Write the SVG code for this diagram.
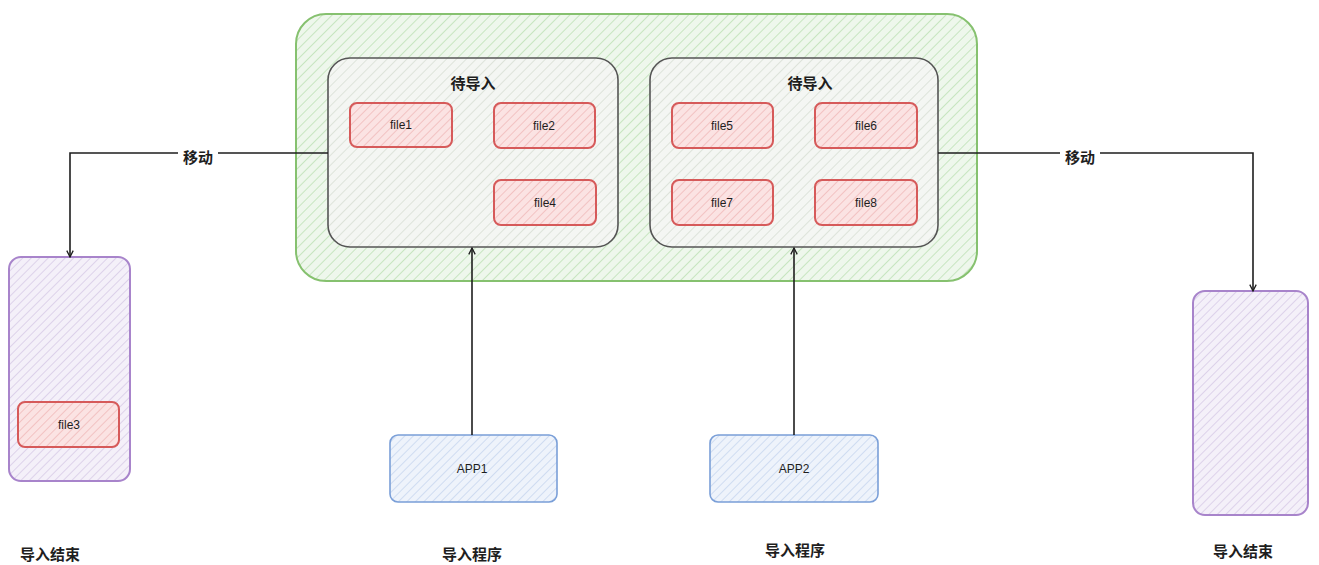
<svg xmlns="http://www.w3.org/2000/svg" width="1319" height="565" viewBox="0 0 1319 565">
<style>
text{font-family:"Noto Sans CJK SC","Liberation Sans",sans-serif;fill:#1e1e1e;text-anchor:middle}
.t{font-size:15px;font-weight:bold}
.f{font-size:12px;font-family:"Liberation Sans","Noto Sans CJK SC",sans-serif}
.green{fill:url(#hg);stroke:#86c16f;stroke-width:2}
.gray{fill:url(#hw);stroke:#555;stroke-width:1.6}
.red{fill:url(#hr);stroke:#d65a5a;stroke-width:2}
.blue{fill:url(#hb);stroke:#7a9fd8;stroke-width:1.6}
.purple{fill:url(#hp);stroke:#a884cb;stroke-width:2}
.conn{fill:none;stroke:#1e1e1e;stroke-width:1.6}
</style>
<defs>
<pattern id="hg" width="7" height="7" patternUnits="userSpaceOnUse" patternTransform="rotate(45)"><rect width="7" height="7" fill="#eef7ec"/><line x1="0" y1="0" x2="0" y2="7" stroke="#c7e5c0" stroke-width="2"/></pattern>
<pattern id="hw" width="7" height="7" patternUnits="userSpaceOnUse" patternTransform="rotate(45)"><rect width="7" height="7" fill="#f4f6f3"/><line x1="0" y1="0" x2="0" y2="7" stroke="#dde3da" stroke-width="2"/></pattern>
<pattern id="hr" width="6" height="6" patternUnits="userSpaceOnUse" patternTransform="rotate(45)"><rect width="6" height="6" fill="#fbe3e3"/><line x1="0" y1="0" x2="0" y2="6" stroke="#f2c2c2" stroke-width="2"/></pattern>
<pattern id="hb" width="6" height="6" patternUnits="userSpaceOnUse" patternTransform="rotate(45)"><rect width="6" height="6" fill="#eef3fb"/><line x1="0" y1="0" x2="0" y2="6" stroke="#cfdcf1" stroke-width="2"/></pattern>
<pattern id="hp" width="6" height="6" patternUnits="userSpaceOnUse" patternTransform="rotate(45)"><rect width="6" height="6" fill="#f4f0f9"/><line x1="0" y1="0" x2="0" y2="6" stroke="#ddd2ea" stroke-width="2"/></pattern>
<marker id="arr" viewBox="0 0 10 10" refX="9" refY="5" markerWidth="8" markerHeight="8" orient="auto-start-reverse" markerUnits="userSpaceOnUse"><path d="M1,1 L9,5 L1,9" fill="none" stroke="#1e1e1e" stroke-width="1.6"/></marker>
</defs>

<g id="outer"><rect class="green" x="296" y="14" width="681" height="267" rx="30"/></g>

<g id="group-left">
<rect class="gray" x="328" y="58" width="290" height="189" rx="22"/>
<text class="t" x="473" y="89">待导入</text>
</g>
<g id="group-right">
<rect class="gray" x="650" y="58" width="288" height="189" rx="22"/>
<text class="t" x="810" y="89">待导入</text>
</g>

<g id="file1"><rect class="red" x="350" y="103" width="102" height="44" rx="7"/><text class="f" x="401" y="129">file1</text></g>
<g id="file2"><rect class="red" x="494" y="103" width="101" height="45" rx="7"/><text class="f" x="544" y="130">file2</text></g>
<g id="file4"><rect class="red" x="494" y="180" width="102" height="45" rx="7"/><text class="f" x="545" y="207">file4</text></g>
<g id="file5"><rect class="red" x="672" y="103" width="101" height="45" rx="7"/><text class="f" x="722" y="130">file5</text></g>
<g id="file6"><rect class="red" x="815" y="103" width="102" height="45" rx="7"/><text class="f" x="866" y="130">file6</text></g>
<g id="file7"><rect class="red" x="672" y="180" width="101" height="45" rx="7"/><text class="f" x="722" y="207">file7</text></g>
<g id="file8"><rect class="red" x="815" y="180" width="102" height="45" rx="7"/><text class="f" x="866" y="207">file8</text></g>

<g id="done-left">
<rect class="purple" x="9" y="257" width="121" height="224" rx="12"/>
<text class="t" x="50" y="560">导入结束</text>
</g>
<g id="file3"><rect class="red" x="18" y="402" width="101" height="45" rx="7"/><text class="f" x="69" y="429">file3</text></g>

<g id="done-right">
<rect class="purple" x="1193" y="291" width="115" height="224" rx="12"/>
<text class="t" x="1243" y="557">导入结束</text>
</g>

<g id="app1">
<rect class="blue" x="390" y="435" width="167" height="67" rx="8"/>
<text class="f" x="472" y="473">APP1</text>
<text class="t" x="472" y="560">导入程序</text>
</g>
<g id="app2">
<rect class="blue" x="710" y="435" width="168" height="67" rx="8"/>
<text class="f" x="794" y="473">APP2</text>
<text class="t" x="795" y="556">导入程序</text>
</g>

<g id="connectors">
<path class="conn" d="M328,153 H70 V257" marker-end="url(#arr)"/>
<path class="conn" d="M938,153 H1253 V291" marker-end="url(#arr)"/>
<path class="conn" d="M472,435 V248" marker-end="url(#arr)"/>
<path class="conn" d="M794,435 V248" marker-end="url(#arr)"/>
<rect x="178" y="147" width="40" height="20" fill="#fff"/>
<text class="t" x="198" y="163">移动</text>
<rect x="1060" y="147" width="40" height="20" fill="#fff"/>
<text class="t" x="1080" y="163">移动</text>
</g>
</svg>
